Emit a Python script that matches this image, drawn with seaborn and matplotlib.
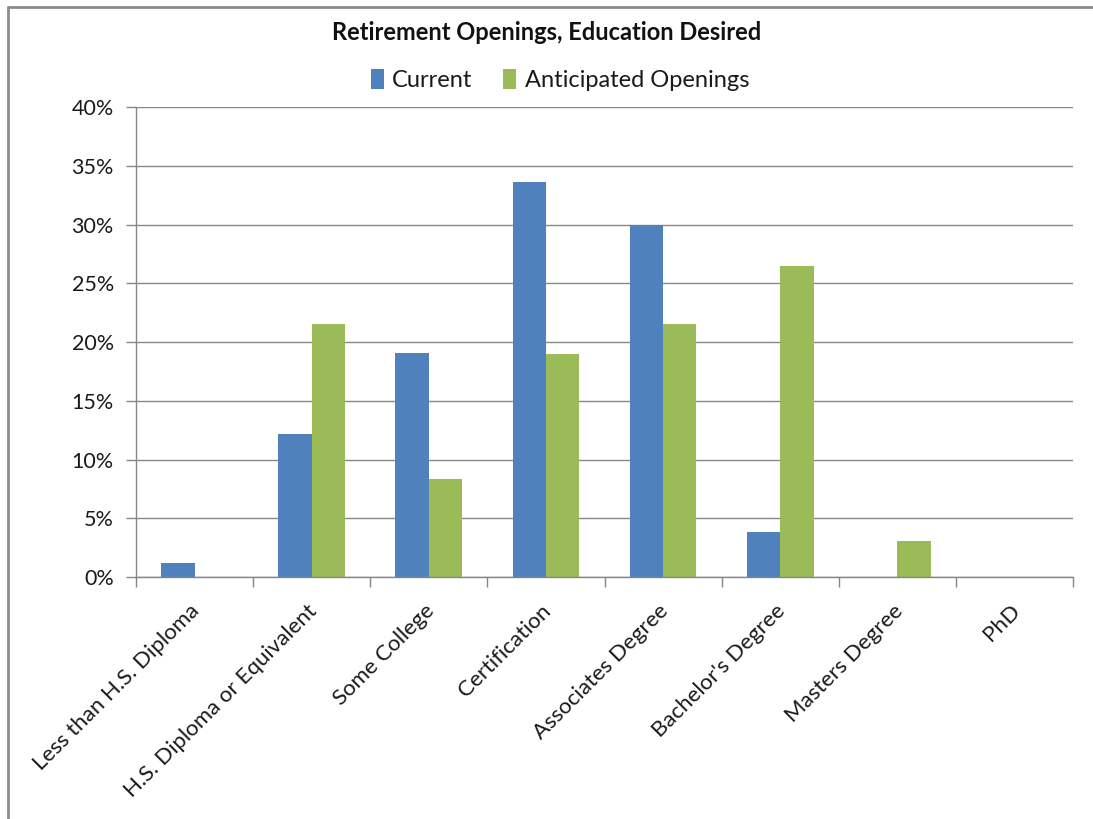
import matplotlib
matplotlib.use("Agg")
import matplotlib.pyplot as plt
from matplotlib.lines import Line2D
from matplotlib.patches import Patch
from matplotlib.transforms import ScaledTranslation
from matplotlib.ticker import FuncFormatter, FixedLocator, NullFormatter
import seaborn as sns
import pandas as pd

categories = [
    "Less than H.S. Diploma",
    "H.S. Diploma or Equivalent",
    "Some College",
    "Certification",
    "Associates Degree",
    "Bachelor's Degree",
    "Masters Degree",
    "PhD",
]
current = [1.2, 12.2, 19.1, 33.6, 30.0, 3.8, 0.0, 0.0]
anticipated = [0.0, 21.5, 8.3, 19.0, 21.5, 26.5, 3.1, 0.0]
series_names = ["Current", "Anticipated Openings"]
y_ticks = [0, 5, 10, 15, 20, 25, 30, 35, 40]

df = pd.DataFrame({
    "Education": categories * 2,
    "Share": current + anticipated,
    "Series": [series_names[0]] * len(categories) + [series_names[1]] * len(categories),
})

sns.set_theme(style="white")
plt.rcParams["font.family"] = ["Lato", "DejaVu Sans"]

fig = plt.figure(figsize=(10.93, 8.19), dpi=100)
ax = fig.add_axes([136 / 1093, 1 - 577 / 819, (1073 - 136) / 1093, (577 - 107) / 819])

palette = {"Current": "#4F81BD", "Anticipated Openings": "#9BBB59"}
sns.barplot(data=df, x="Education", y="Share", hue="Series", order=categories,
            hue_order=series_names, palette=palette, width=0.57, saturation=1,
            edgecolor="none", ax=ax, legend=False)

grey = "#868686"
text_color = "#1a1a1a"
ax.set_ylim(0, 40)
ax.set_xlim(-0.5, len(categories) - 0.5)
ax.yaxis.set_major_locator(FixedLocator(y_ticks))
ax.yaxis.set_major_formatter(FuncFormatter(lambda v, _: f"{v:.0f}%"))
ax.grid(axis="y", color=grey, linewidth=1.0)
ax.set_axisbelow(True)
ax.set_xlabel("")
ax.set_ylabel("")

for side in ["top", "right"]:
    ax.spines[side].set_visible(False)
for side in ["left", "bottom"]:
    ax.spines[side].set_color(grey)
    ax.spines[side].set_linewidth(1.0)

ax.tick_params(axis="y", which="major", direction="out", length=7, width=1.0,
               color=grey, labelsize=15.5, labelcolor=text_color, pad=9, left=True)
# category labels at centers, tick marks between categories
ax.set_xticks(range(len(categories)))
ax.set_xticklabels(categories, rotation=45, ha="right", rotation_mode="anchor",
                   fontsize=16, color=text_color)
ax.tick_params(axis="x", which="major", length=0, pad=17)
shift = ScaledTranslation(-5 / 100, 0, fig.dpi_scale_trans)
for lbl in ax.get_xticklabels():
    lbl.set_transform(lbl.get_transform() + shift)
ax.set_xticks([i - 0.5 for i in range(len(categories) + 1)], minor=True)
ax.xaxis.set_minor_formatter(NullFormatter())
ax.tick_params(axis="x", which="minor", direction="out", length=7, width=1.0,
               color=grey, bottom=True)

fig.text(547 / 1093, 1 - 33 / 819, "Retirement Openings, Education Desired",
         ha="center", va="center", fontsize=17, fontweight="bold", color="#111111")

handles = [Patch(facecolor=palette[s], edgecolor="none") for s in series_names]
fig.legend(handles, series_names, loc="center", bbox_to_anchor=(560 / 1093, 1 - 80 / 819),
           ncol=2, frameon=False, fontsize=17, handletextpad=0.35, columnspacing=1.3,
           handlelength=0.55, handleheight=0.9, labelcolor=text_color)

# outer chart frame
fig.add_artist(Line2D([8 / 1093, 8 / 1093], [0, 1 - 7 / 819], transform=fig.transFigure,
                      color="#8c8c8c", linewidth=2))
fig.add_artist(Line2D([8 / 1093, 1], [1 - 7 / 819, 1 - 7 / 819], transform=fig.transFigure,
                      color="#8c8c8c", linewidth=2))

fig.savefig("out.png", dpi=100, facecolor="white")
